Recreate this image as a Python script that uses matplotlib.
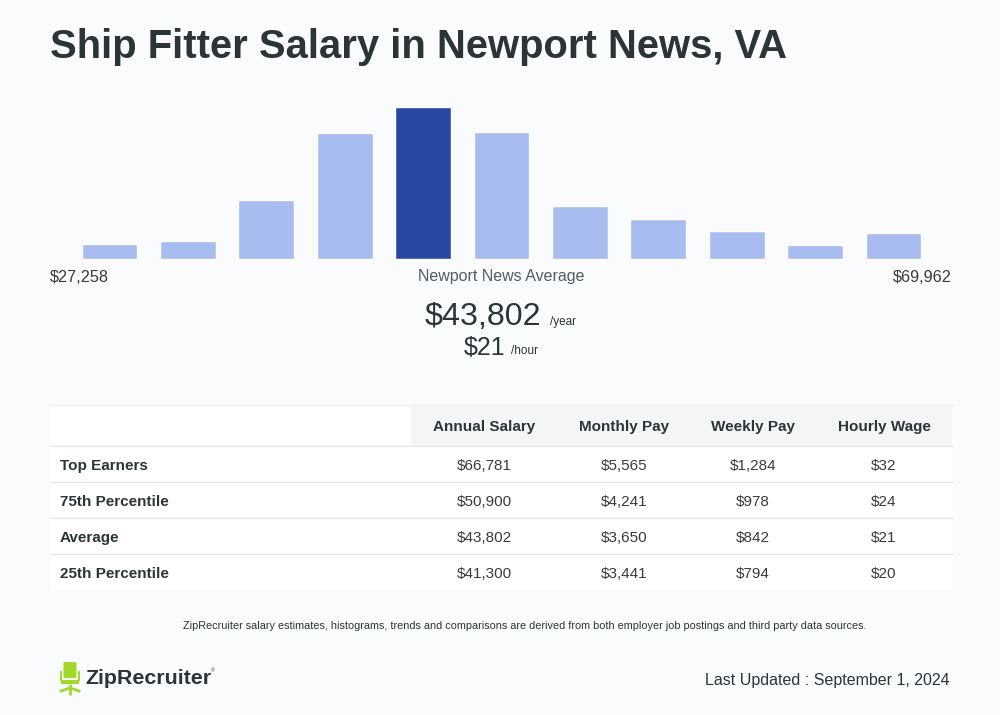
import matplotlib
matplotlib.use("Agg")
import matplotlib.pyplot as plt
from matplotlib.patches import Rectangle, FancyBboxPatch

plt.rcParams['font.family'] = ['Liberation Sans', 'DejaVu Sans']

# histogram data (relative bar heights)
bar_heights = [15, 18, 59, 126, 152, 127, 53, 40, 28, 14, 26]
highlight = 4
min_label = "$27,258"
max_label = "$69,962"
avg_year = "$43,802"
avg_hour = "$21"

col_headers = ["Annual Salary", "Monthly Pay", "Weekly Pay", "Hourly Wage"]
row_labels = ["Top Earners", "75th Percentile", "Average", "25th Percentile"]
annual = ["$66,781", "$50,900", "$43,802", "$41,300"]
monthly = ["$5,565", "$4,241", "$3,650", "$3,441"]
weekly = ["$1,284", "$978", "$842", "$794"]
hourly = ["$32", "$24", "$21", "$20"]

bg = "#f9fbfd"
dark = "#2d3436"
txt = "#3a3a3a"

fig = plt.figure(figsize=(10, 7.15), dpi=100)
fig.patch.set_facecolor(bg)

# bars axes: pixels x 50..952, y 107..259
W, H = 1000, 715
bx0, bx1, by_top, by_bot = 50, 952, 107, 259
axb = fig.add_axes([bx0 / W, 1 - by_bot / H, (bx1 - bx0) / W, (by_bot - by_top) / H])
axb.set_facecolor(bg)
step = 78.4
first = 109.5
axb.set_xlim((bx0 - first) / step, (bx1 - first) / step)
axb.set_ylim(0, max(bar_heights))
colors = ["#2749a3" if i == highlight else "#a9bcf0" for i in range(len(bar_heights))]
axb.bar(range(len(bar_heights)), bar_heights, width=0.71, color=colors,
        edgecolor="white", linewidth=1.0, clip_on=False)
axb.axis("off")

# overlay axes in pixel coordinates
ax = fig.add_axes([0, 0, 1, 1])
ax.set_xlim(0, W)
ax.set_ylim(H, 0)
ax.axis("off")
ax.patch.set_alpha(0)

ax.text(50, 47, "Ship Fitter Salary in Newport News, VA", fontsize=28.8, fontweight="bold",
        color=dark, va="center", ha="left")

ax.text(50, 277, min_label, fontsize=11.7, color=txt, va="center", ha="left")
ax.text(952, 277, max_label, fontsize=11.7, color=txt, va="center", ha="right")
ax.text(501, 277, "Newport News Average", fontsize=11.5, color="#555b5e", va="center", ha="center")

ax.text(541, 325, avg_year, fontsize=23.2, color=dark, va="baseline", ha="right")
ax.text(550, 325, "/year", fontsize=8.5, color=dark, va="baseline", ha="left")
ax.text(505, 355, avg_hour, fontsize=18, color=dark, va="baseline", ha="right")
ax.text(511, 354, "/hour", fontsize=8.5, color=dark, va="baseline", ha="left")

# table
tx0, tx1 = 50, 952
ty = [405, 446, 482, 518, 554, 590]
ax.add_patch(Rectangle((tx0, ty[0]), tx1 - tx0, ty[-1] - ty[0], facecolor="white", edgecolor="none"))
ax.add_patch(Rectangle((411, ty[0]), tx1 - 411, ty[1] - ty[0], facecolor="#f3f5f7", edgecolor="none"))
ax.plot([tx0, tx1], [ty[0], ty[0]], color="#eef0f2", lw=1)
for y in ty[1:-1]:
    ax.plot([tx0, tx1], [y, y], color="#e6e8ea", lw=1)

col_x = [484, 624, 753, 884]
for cx, h in zip(col_x, col_headers):
    ax.text(cx, (ty[0] + ty[1]) / 2 + 2, h, fontsize=11, fontweight="bold", color=dark,
            va="center", ha="center")
for r, lab in enumerate(row_labels):
    yc = (ty[r + 1] + ty[r + 2]) / 2 + 2
    ax.text(60, yc, lab, fontsize=11, fontweight="bold", color=dark, va="center", ha="left")
    for cx, vals in zip(col_x, [annual, monthly, weekly, hourly]):
        ax.text(cx, yc, vals[r], fontsize=11, color=txt, va="center", ha="center")

ax.text(525, 626, "ZipRecruiter salary estimates, histograms, trends and comparisons are derived from both employer job postings and third party data sources.",
        fontsize=7.85, color=dark, va="center", ha="center")

# logo
green = "#a3d82b"
ax.add_patch(FancyBboxPatch((63.5, 662), 13, 16, boxstyle="round,pad=0,rounding_size=1.5",
                            facecolor=green, edgecolor="none"))
ax.add_patch(Rectangle((60, 671), 2, 10, facecolor=green, edgecolor="none"))
ax.add_patch(Rectangle((78, 671), 2, 10, facecolor=green, edgecolor="none"))
ax.add_patch(Rectangle((61, 680), 18, 4, facecolor=green, edgecolor="none"))
ax.plot([70, 70], [684, 695], color=green, lw=2, solid_capstyle="butt")
ax.plot([61, 70, 79], [691, 688, 691], color=green, lw=2)
ax.text(85, 679, "ZipRecruiter", fontsize=15.4, fontweight="bold", color=dark, va="center", ha="left")
ax.text(211, 671, "®", fontsize=3.5, color=dark, va="center", ha="left")

ax.text(950, 681, "Last Updated : September 1, 2024", fontsize=11.5, color=dark, va="center", ha="right")

fig.savefig("out.png", dpi=100, facecolor=bg)
